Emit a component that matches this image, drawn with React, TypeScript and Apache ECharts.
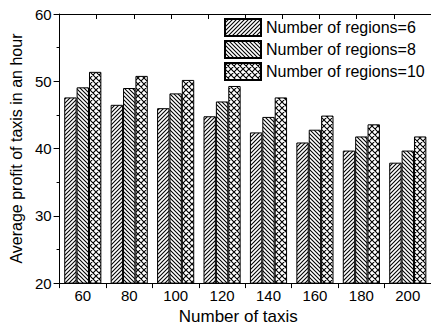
import React, { useEffect, useRef } from "react";
import * as echarts from "echarts";

const categories = ["60", "80", "100", "120", "140", "160", "180", "200"];
const regions6 = [47.6, 46.5, 46.0, 44.8, 42.4, 40.9, 39.7, 37.9];
const regions8 = [49.1, 49.0, 48.2, 47.0, 44.7, 42.8, 41.8, 39.7];
const regions10 = [51.4, 50.8, 50.2, 49.3, 47.6, 44.9, 43.6, 41.8];
const seriesNames = ["Number of regions=6", "Number of regions=8", "Number of regions=10"];

const FONT = "'Liberation Sans', Arial, sans-serif";

// Hatch tiles drawn on a small canvas and repeated as a fill pattern.
function hatchTile(kind: "fwd" | "back" | "cross", size: number) {
  const c = document.createElement("canvas");
  c.width = size;
  c.height = size;
  const ctx = c.getContext("2d")!;
  ctx.fillStyle = "#ffffff";
  ctx.fillRect(0, 0, size, size);
  ctx.strokeStyle = "#000000";
  ctx.lineWidth = 1.1;
  ctx.beginPath();
  if (kind === "fwd" || kind === "cross") {
    for (const k of [0, size, 2 * size]) {
      ctx.moveTo(k - size - 1, size + 1);
      ctx.lineTo(k + 1, -1);
    }
  }
  if (kind === "back" || kind === "cross") {
    for (const k of [-size, 0, size]) {
      ctx.moveTo(k - 1, -1);
      ctx.lineTo(k + size + 1, size + 1);
    }
  }
  ctx.stroke();
  return { image: c, repeat: "repeat" as const };
}

export default function App() {
  const ref = useRef<HTMLDivElement>(null);

  useEffect(() => {
    if (!ref.current) return;
    const chart = echarts.init(ref.current, null, { renderer: "svg" });

    const fills = [hatchTile("fwd", 4), hatchTile("back", 4), hatchTile("cross", 6)];
    const values = [regions6, regions8, regions10];

    chart.setOption({
      animation: false,
      backgroundColor: "#ffffff",
      textStyle: { fontFamily: FONT, color: "#000" },
      grid: { left: 57, top: 14, bottom: 41, right: -6.5, containLabel: false },
      legend: {
        orient: "vertical",
        left: 224,
        top: 18,
        padding: 0,
        itemWidth: 36,
        itemHeight: 17,
        itemGap: 3,
        icon: "rect",
        textStyle: { fontFamily: FONT, fontSize: 16, lineHeight: 17, color: "#000" },
        data: seriesNames,
      },
      xAxis: [
        {
          type: "category",
          data: categories,
          position: "bottom",
          name: "Number of taxis",
          nameLocation: "middle",
          nameGap: 19,
          nameTextStyle: { fontFamily: FONT, fontSize: 17, color: "#000", padding: [0, 14, 0, 0] },
          axisLine: { lineStyle: { color: "#000", width: 1 } },
          axisTick: { show: true, inside: false, length: 5, lineStyle: { color: "#000" } },
          axisLabel: { fontFamily: FONT, fontSize: 15, color: "#000", margin: 5 },
          splitLine: { show: false },
        },
        {
          type: "value",
          position: "top",
          min: 0,
          max: 10,
          interval: 1,
          axisLine: { show: true, onZero: false, lineStyle: { color: "#000", width: 1 } },
          axisTick: { show: true, inside: true, length: 5, lineStyle: { color: "#000" } },
          axisLabel: { show: false },
          splitLine: { show: false },
        },
      ],
      yAxis: {
        type: "value",
        min: 20,
        max: 60,
        interval: 10,
        name: "Average profit of taxis in an hour",
        nameLocation: "middle",
        nameGap: 24,
        nameTextStyle: { fontFamily: FONT, fontSize: 16, color: "#000" },
        axisLine: { show: true, lineStyle: { color: "#000", width: 1 } },
        axisTick: { show: true, inside: false, length: 6, lineStyle: { color: "#000" } },
        minorTick: { show: true, splitNumber: 2, length: 3, lineStyle: { color: "#000" } },
        axisLabel: { fontFamily: FONT, fontSize: 15, color: "#000", margin: 8 },
        splitLine: { show: false },
      },
      series: seriesNames.map((name, i) => ({
        name,
        type: "bar",
        xAxisIndex: 0,
        data: values[i],
        barGap: "0%",
        barCategoryGap: "20%",
        itemStyle: { color: fills[i], borderColor: "#000", borderWidth: 1 },
        emphasis: { disabled: true },
      })),
    });

    return () => chart.dispose();
  }, []);

  return (
    <div
      ref={ref}
      style={{ position: "fixed", left: 0, top: 0, width: 431, height: 330, background: "#fff" }}
    />
  );
}
